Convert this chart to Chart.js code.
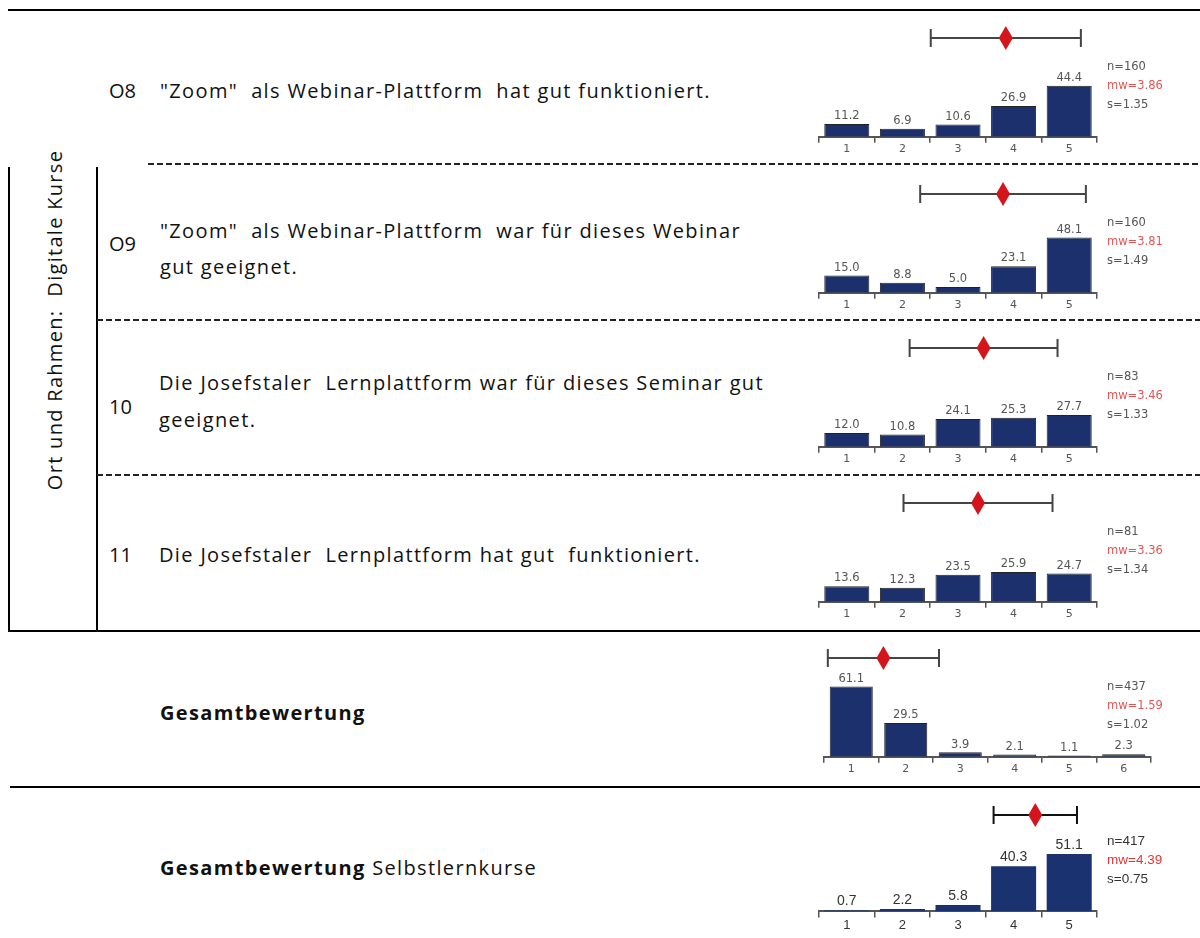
<!DOCTYPE html>
<html lang="de">
<head>
  <meta charset="UTF-8" />
  <title>Ort und Rahmen: Digitale Kurse</title>
  <script src="https://cdn.jsdelivr.net/npm/chart.js"></script>
<style>
  body { margin: 0; background: #fff; }
  #page {
    position: relative;
    width: 1200px;
    height: 938px;
    overflow: hidden;
    font-family: 'Open Sans', sans-serif;
    color: #111;
  }
  .rule { position: absolute; background: #000; }
  .dash {
    position: absolute;
    height: 2px;
    background: repeating-linear-gradient(to right, #222 0 6px, transparent 6px 9px);
  }
  .txt {
    position: absolute;
    white-space: pre;
    font-size: 20px;
    line-height: 20px;
    letter-spacing: 1.35px;
    transform: translateY(-50%);
  }
  .side {
    position: absolute;
    left: 55px;
    top: 320px;
    white-space: pre;
    font-size: 20px;
    line-height: 20px;
    letter-spacing: 1.3px;
    transform: translate(-50%, -50%) rotate(-90deg);
  }
  canvas.mini { position: absolute; left: 800px; }
</style>
</head>
<body>
<div id="page">
  <!-- table rules -->
  <div class="rule" style="left:8px;top:9px;width:1192px;height:2px"></div>
  <div class="rule" style="left:8px;top:167px;width:2px;height:465px"></div>
  <div class="rule" style="left:96px;top:167px;width:2px;height:465px"></div>
  <div class="dash" style="left:148px;top:163px;width:1052px"></div>
  <div class="dash" style="left:97px;top:319px;width:1103px"></div>
  <div class="dash" style="left:97px;top:474px;width:1103px"></div>
  <div class="rule" style="left:8px;top:630px;width:1192px;height:2px"></div>
  <div class="rule" style="left:10px;top:786px;width:1190px;height:2px"></div>

  <div class="side">Ort und Rahmen:  Digitale Kurse</div>

  <!-- item texts -->
  <div class="txt" style="left:109px;top:91px;letter-spacing:0">O8</div>
  <div class="txt" style="left:160px;top:91px">"Zoom"  als Webinar-Plattform  hat gut funktioniert.</div>

  <div class="txt" style="left:109px;top:244px;letter-spacing:0">O9</div>
  <div class="txt" style="left:160px;top:231px">"Zoom"  als Webinar-Plattform  war für dieses Webinar</div>
  <div class="txt" style="left:160px;top:267px">gut geeignet.</div>

  <div class="txt" style="left:109px;top:407px;letter-spacing:0">10</div>
  <div class="txt" style="left:159px;top:383px">Die Josefstaler  Lernplattform war für dieses Seminar gut</div>
  <div class="txt" style="left:159px;top:420px">geeignet.</div>

  <div class="txt" style="left:109px;top:555px;letter-spacing:0">11</div>
  <div class="txt" style="left:159px;top:555px">Die Josefstaler  Lernplattform hat gut  funktioniert.</div>

  <div class="txt" style="left:160px;top:713px;font-weight:bold">Gesamtbewertung</div>
  <div class="txt" style="left:160px;top:868px"><b>Gesamtbewertung</b> Selbstlernkurse</div>

  <canvas id="c0" class="mini" width="380" height="136"></canvas>
  <canvas id="c1" class="mini" width="380" height="136"></canvas>
  <canvas id="c2" class="mini" width="380" height="136"></canvas>
  <canvas id="c3" class="mini" width="380" height="136"></canvas>
  <canvas id="c4" class="mini" width="380" height="136"></canvas>
  <canvas id="c5" class="mini" width="380" height="136"></canvas>
</div>

<script>
  // answer scale labels
  const scale5 = ['1', '2', '3', '4', '5'];
  const scale6 = ['1', '2', '3', '4', '5', '6'];

  // percentages per answer category
  const o8Pct = [11.2, 6.9, 10.6, 26.9, 44.4];
  const o9Pct = [15.0, 8.8, 5.0, 23.1, 48.1];
  const q10Pct = [12.0, 10.8, 24.1, 25.3, 27.7];
  const q11Pct = [13.6, 12.3, 23.5, 25.9, 24.7];
  const gesamtPct = [61.1, 29.5, 3.9, 2.1, 1.1, 2.3];
  const selbstPct = [0.7, 2.2, 5.8, 40.3, 51.1];

  // n, mean (mw) and standard deviation (s) per item
  const nValues = [160, 160, 83, 81, 437, 417];
  const mwValues = [3.86, 3.81, 3.46, 3.36, 1.59, 4.39];
  const sValues = [1.35, 1.49, 1.33, 1.34, 1.02, 0.75];

  const series = [o8Pct, o9Pct, q10Pct, q11Pct, gesamtPct, selbstPct];
  const scales = [scale5, scale5, scale5, scale5, scale6, scale5];

  // where each small chart sits (whisker row y) and its side paddings
  const boxTop = [38, 194, 348, 503, 658, 815];
  const padLeft = [19, 19, 19, 19, 24, 19];
  const padRight = [83, 83, 83, 83, 29, 83];

  const soft = { font: "'DejaVu Sans', sans-serif", size: 11.5, tick: 11, text: '#555', stat: 11.5, bar: '#1c306e', edge: '#222', whisker: '#444', mw: '#e25555' };
  const crisp = { font: "'Liberation Sans', Arial, sans-serif", size: 14, tick: 13, text: '#333', stat: 13.5, bar: '#1b3270', edge: '#1b3270', whisker: '#111', mw: '#e23535' };

  const extras = {
    id: 'extras',
    afterDatasetsDraw(chart, args, o) {
      const ctx = chart.ctx;
      const xs = chart.scales.x;
      const a = chart.chartArea;
      const vals = chart.data.datasets[0].data;
      ctx.save();

      // value labels on top of the bars
      ctx.font = o.size + 'px ' + o.font;
      ctx.fillStyle = o.text;
      ctx.textAlign = 'center';
      ctx.textBaseline = 'bottom';
      chart.getDatasetMeta(0).data.forEach((bar, i) => {
        ctx.fillText(vals[i].toFixed(1), bar.x, bar.y - 2);
      });

      // mean +- s whisker with diamond
      const p0 = xs.getPixelForValue(0), p1 = xs.getPixelForValue(1);
      const px = v => p0 + (v - 1) * (p1 - p0);
      const y = a.top;
      const lo = px(o.mw - o.s), hi = px(o.mw + o.s), m = px(o.mw);
      ctx.strokeStyle = o.whisker;
      ctx.lineWidth = 2;
      ctx.beginPath();
      ctx.moveTo(lo, y); ctx.lineTo(hi, y);
      ctx.moveTo(lo, y - 9); ctx.lineTo(lo, y + 9);
      ctx.moveTo(hi, y - 9); ctx.lineTo(hi, y + 9);
      ctx.stroke();
      ctx.fillStyle = '#d4161c';
      ctx.beginPath();
      ctx.moveTo(m, y - 12); ctx.lineTo(m + 7, y); ctx.lineTo(m, y + 12); ctx.lineTo(m - 7, y);
      ctx.closePath();
      ctx.fill();

      // n / mw / s
      ctx.textAlign = 'left';
      ctx.textBaseline = 'middle';
      ctx.font = o.stat + 'px ' + o.font;
      const b = a.bottom;
      ctx.fillStyle = o.text;
      ctx.fillText('n=' + o.n, 307, b - 70);
      ctx.fillStyle = o.mwColor;
      ctx.fillText('mw=' + o.mw.toFixed(2), 307, b - 51);
      ctx.fillStyle = o.text;
      ctx.fillText('s=' + o.s.toFixed(2), 307, b - 32);
      ctx.restore();
    }
  };

  function drawMini(i) {
    const st = i === 5 ? crisp : soft;
    const canvas = document.getElementById('c' + i);
    canvas.style.top = (boxTop[i] - 16) + 'px';
    new Chart(canvas, {
      type: 'bar',
      data: {
        labels: scales[i],
        datasets: [{
          data: series[i],
          backgroundColor: st.bar,
          borderColor: st.edge,
          borderWidth: i === 5 ? 0 : 1,
          borderSkipped: 'bottom',
          barPercentage: i === 4 ? 0.79 : 0.81,
          categoryPercentage: 1
        }]
      },
      options: {
        responsive: false,
        animation: false,
        layout: { padding: { top: 16, bottom: 2, left: padLeft[i], right: padRight[i] } },
        plugins: {
          legend: { display: false },
          tooltip: { enabled: false },
          extras: {
            n: nValues[i], mw: mwValues[i], s: sValues[i],
            font: st.font, size: st.size, stat: st.stat, text: st.text,
            whisker: st.whisker, mwColor: st.mw
          }
        },
        scales: {
          x: {
            offset: true,
            grid: { offset: true, drawOnChartArea: false, drawTicks: true, tickLength: 6, color: '#555', lineWidth: 1.5 },
            border: { display: true, color: '#555', width: 2 },
            ticks: { color: st.text, font: { family: st.font, size: st.tick }, padding: 0, maxRotation: 0 }
          },
          y: { display: false, min: 0, max: 86 }
        }
      },
      plugins: [extras]
    });
  }

  for (let i = 0; i < 6; i++) drawMini(i);
</script>
</body>
</html>
